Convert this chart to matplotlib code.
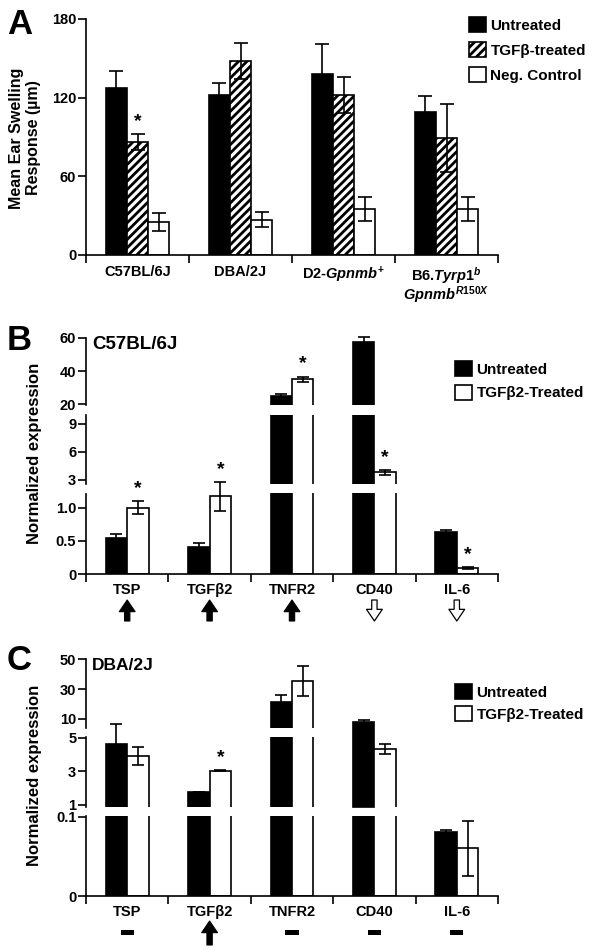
import matplotlib
matplotlib.use("Agg")
import matplotlib.pyplot as plt
from matplotlib.patches import Rectangle, Patch
from matplotlib.transforms import blended_transform_factory
import numpy as np

plt.rcParams['font.family'] = ['Liberation Sans', 'DejaVu Sans']
plt.rcParams['font.weight'] = 'bold'
plt.rcParams['mathtext.fontset'] = 'custom'
plt.rcParams['mathtext.rm'] = 'Liberation Sans:bold'
plt.rcParams['mathtext.it'] = 'Liberation Sans:italic:bold'
plt.rcParams['mathtext.bf'] = 'Liberation Sans:bold'
plt.rcParams['hatch.linewidth'] = 2.0
plt.rcParams['axes.linewidth'] = 1.2

# ---------------- data ----------------
# Panel A
strains = ["C57BL/6J", "DBA/2J", "D2-$Gpnmb^{+}$", "B6.$Tyrp1^{b}$\n$Gpnmb^{R150X}$"]
a_untreated = [127, 122, 138, 109]
a_untreated_err = [13, 9.5, 23, 12]
a_tgfb = [86, 148, 122, 89]
a_tgfb_err = [6, 14, 14, 26]
a_neg = [25, 27, 35, 35]
a_neg_err = [7, 6, 9, 9]
a_tgfb_sig = [True, False, False, False]
a_legend = ["Untreated", "TGFβ-treated", "Neg. Control"]

# Panel B (C57BL/6J)
genes = ["TSP", "TGFβ2", "TNFR2", "CD40", "IL-6"]
b_untreated = [0.55, 0.40, 25.0, 57.6, 0.63]
b_untreated_err = [0.05, 0.065, 1.0, 3.0, 0.035]
b_treated = [1.0, 1.17, 35.0, 3.8, 0.086]
b_treated_err = [0.10, 0.22, 1.7, 0.25, 0.018]
b_sig = [True, True, True, True, True]
b_direction = ["up", "up", "up", "down", "down"]
b_seg_limits = [(0, 1.214), (2.57, 10.0), (19.6, 60.0)]
b_seg_ticks = [[0, 0.5, 1.0], [3, 6, 9], [20, 40, 60]]
b_seg_ticklabels = [["0", "0.5", "1.0"], ["3", "6", "9"], ["20", "40", "60"]]

# Panel C (DBA/2J)
c_untreated = [4.63, 1.77, 21.6, 5.95, 0.0807]
c_untreated_err = [1.17, 0.02, 4.4, 0.08, 0.0025]
c_treated = [3.91, 3.04, 35.7, 4.31, 0.060]
c_treated_err = [0.52, 0.03, 10.1, 0.3, 0.0345]
c_sig = [False, True, False, False, False]
c_direction = ["none", "up", "none", "none", "none"]
c_seg_limits = [(0, 0.1008), (0.91, 5.06), (4.17, 50.5)]
c_seg_ticks = [[0, 0.1], [1, 3, 5], [10, 30, 50]]
c_seg_ticklabels = [["0", "0.1"], ["1", "3", "5"], ["10", "30", "50"]]

bc_legend = ["Untreated", "TGFβ2-Treated"]

# ---------------- layout helpers ----------------
W, H = 600, 950
fig = plt.figure(figsize=(6, 9.5), dpi=100)


def ax_px(left, top, right, bottom):
    return fig.add_axes([left / W, 1 - bottom / H, (right - left) / W, (bottom - top) / H])


def fy(px):
    return 1 - px / H


EB = dict(fmt='none', ecolor='black', elinewidth=1.2, capthick=1.2, zorder=4)


def style_y(ax, ticks, labels):
    ax.spines['top'].set_visible(False)
    ax.spines['right'].set_visible(False)
    ax.set_yticks(ticks)
    ax.set_yticklabels(labels)
    ax.tick_params(axis='y', direction='out', length=5.5, width=1.2, pad=1.5, labelsize=10.5)


def style_x(ax, n, labels, pad):
    ax.set_xlim(-0.5, n - 0.5)
    ax.set_xticks(np.arange(n))
    ax.set_xticklabels(labels)
    ax.set_xticks(np.arange(n + 1) - 0.5, minor=True)
    ax.tick_params(axis='x', which='major', length=0, pad=pad, labelsize=10.5)
    ax.tick_params(axis='x', which='minor', direction='out', length=6, width=1.2)


def star(ax, x, y, dy=9):
    ax.annotate('*', xy=(x, y), xytext=(0, dy), textcoords='offset points',
                ha='center', va='center', fontsize=14, annotation_clip=False)


# ---------------- Panel A ----------------
axA = ax_px(86, 19, 498, 255)
xA = np.arange(len(strains))
bw = 0.205
axA.bar(xA - bw, a_untreated, bw, color='black', edgecolor='black', lw=1.2, zorder=2)
axA.bar(xA, a_tgfb, bw, color='white', edgecolor='black', hatch='////', lw=1.2, zorder=2)
axA.bar(xA + bw, a_neg, bw, color='white', edgecolor='black', lw=1.2, zorder=2)
axA.errorbar(xA - bw, a_untreated, yerr=a_untreated_err, capsize=5, **EB)
axA.errorbar(xA, a_tgfb, yerr=a_tgfb_err, capsize=5, **EB)
axA.errorbar(xA + bw, a_neg, yerr=a_neg_err, capsize=5, **EB)
for i, s in enumerate(a_tgfb_sig):
    if s:
        star(axA, xA[i], a_tgfb[i] + a_tgfb_err[i])
axA.set_ylim(0, 180)
style_y(axA, [0, 60, 120, 180], ["0", "60", "120", "180"])
style_x(axA, len(strains), strains, 7)
for t in axA.get_xticklabels():
    t.set_linespacing(0.95)
    t.set_va('top')
fig.text(25 / W, fy(138), "Mean Ear Swelling\nResponse (µm)", rotation=90,
         ha='center', va='center', fontsize=11.5, linespacing=1.2)

hA = [Patch(facecolor='black', edgecolor='black', lw=1.2),
      Patch(facecolor='white', edgecolor='black', hatch='////', lw=1.2),
      Patch(facecolor='white', edgecolor='black', lw=1.2)]
fig.legend(hA, a_legend, loc='upper left', bbox_to_anchor=(469 / W, fy(17)), frameon=False,
           fontsize=11, handlelength=1.1, handleheight=1.1, handletextpad=0.3,
           labelspacing=0.62, borderaxespad=0, borderpad=0)
fig.text(7 / W, fy(24), "A", fontsize=25, va='center', ha='left')


# ---------------- broken panels B and C ----------------
def seg_index(v, ticks):
    k = 0
    for i, tk in enumerate(ticks):
        if v >= tk[0]:
            k = i
    return k


def broken_panel(seg_px, limits, ticks, ticklabels, unt, unt_err, trt, trt_err, sig):
    n = len(genes)
    x = np.arange(n)
    w = 0.26
    axes = []
    for i, ((top, bot), (lo, hi)) in enumerate(zip(seg_px, limits)):
        ax = ax_px(86, top, 498, bot)
        ax.set_ylim(lo, hi)
        style_y(ax, ticks[i], ticklabels[i])
        ax.set_xlim(-0.5, n - 0.5)
        if i == 0:
            style_x(ax, n, genes, 6.5)
        else:
            ax.spines['bottom'].set_visible(False)
            ax.set_xticks([])
        ax.patch.set_visible(False)
        axes.append(ax)
    for j in range(n):
        for vals, errs, xo, col in [(unt, unt_err, -w / 2, 'black'), (trt, trt_err, w / 2, 'white')]:
            v, e = vals[j], errs[j]
            k = seg_index(v, ticks)
            for i in range(k + 1):
                lo, hi = limits[i]
                if i == k and v > hi:
                    axes[i].bar(x[j] + xo, v - lo, w, bottom=lo, color=col, edgecolor='black',
                                lw=1.2, zorder=2, clip_on=False)
                else:
                    axes[i].bar(x[j] + xo, v, w, color=col, edgecolor='black', lw=1.2, zorder=2)
            cont = axes[k].errorbar(x[j] + xo, v, yerr=e, capsize=4.5, **EB)
            for art in cont.get_children():
                art.set_clip_on(False)
            if col == 'white' and sig[j]:
                star(axes[k], x[j] + xo, v + e)
    return axes


axesB = broken_panel([(493.5, 574), (414.5, 484), (337.7, 405)], b_seg_limits,
                     b_seg_ticks, b_seg_ticklabels,
                     b_untreated, b_untreated_err, b_treated, b_treated_err, b_sig)
axesC = broken_panel([(816, 896), (736.7, 806.5), (658.5, 727.7)], c_seg_limits,
                     c_seg_ticks, c_seg_ticklabels,
                     c_untreated, c_untreated_err, c_treated, c_treated_err, c_sig)

fig.text(35 / W, fy(453), "Normalized expression", rotation=90, ha='center', va='center', fontsize=12)
fig.text(35 / W, fy(775), "Normalized expression", rotation=90, ha='center', va='center', fontsize=12)
fig.text(92 / W, fy(344.5), "C57BL/6J", fontsize=13.5, va='center', ha='left')
fig.text(92 / W, fy(665), "DBA/2J", fontsize=12.5, va='center', ha='left')
fig.text(7 / W, fy(340), "B", fontsize=25, va='center', ha='left')
fig.text(7 / W, fy(661), "C", fontsize=25, va='center', ha='left')

hBC = [Patch(facecolor='black', edgecolor='black', lw=1.2),
       Patch(facecolor='white', edgecolor='black', lw=1.2)]
fig.legend(hBC, bc_legend, loc='upper left', bbox_to_anchor=(455 / W, fy(361)), frameon=False,
           fontsize=11, handlelength=1.1, handleheight=1.1, handletextpad=0.3,
           labelspacing=0.55, borderaxespad=0, borderpad=0)
fig.legend(hBC, bc_legend, loc='upper left', bbox_to_anchor=(455 / W, fy(684)), frameon=False,
           fontsize=11, handlelength=1.1, handleheight=1.1, handletextpad=0.3,
           labelspacing=0.45, borderaxespad=0, borderpad=0)


# arrows / dashes below gene labels
def marker(ax, j, kind, ytop, ybot):
    style = 'simple,head_length=0.7,head_width=0.95,tail_width=0.32'
    if kind == "up":
        ax.annotate('', xy=(j, fy(ytop)), xytext=(j, fy(ybot)), xycoords=('data', 'figure fraction'),
                    arrowprops=dict(arrowstyle=style, fc='black', ec='black', lw=0.8,
                                    shrinkA=0, shrinkB=0, mutation_scale=12),
                    annotation_clip=False)
    elif kind == "down":
        ax.annotate('', xy=(j, fy(ybot)), xytext=(j, fy(ytop)), xycoords=('data', 'figure fraction'),
                    arrowprops=dict(arrowstyle=style, fc='white', ec='black', lw=0.9,
                                    shrinkA=0, shrinkB=0, mutation_scale=12),
                    annotation_clip=False)
    else:
        tr = blended_transform_factory(ax.transData, fig.transFigure)
        fig.add_artist(Rectangle((j - 0.08, fy(935)), 0.16, 5 / H, transform=tr,
                                 facecolor='black', edgecolor='none'))


for j, d in enumerate(b_direction):
    marker(axesB[0], j, d, 600, 621)
for j, d in enumerate(c_direction):
    marker(axesC[0], j, d, 921, 945)

fig.savefig("out.png", dpi=100)
